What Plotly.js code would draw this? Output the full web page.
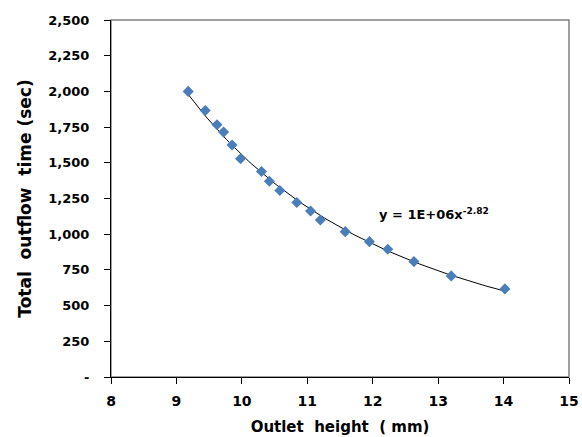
<!DOCTYPE html>
<html>
<head>
<meta charset="utf-8">
<script src="https://cdn.plot.ly/plotly-3.0.1.min.js"></script>
<style>
  html, body { margin: 0; padding: 0; background: #fff; }
  #chart { width: 582px; height: 437px; }
</style>
</head>
<body>
<div id="chart"></div>
<script>
// Outlet height (mm) and measured total outflow time (sec)
const outletHeight = [9.18, 9.44, 9.62, 9.72, 9.85, 9.98, 10.30, 10.42, 10.58, 10.84,
                      11.05, 11.20, 11.58, 11.95, 12.23, 12.63, 13.20, 14.02];
const outflowTime  = [2000, 1866, 1766, 1715, 1624, 1528, 1439, 1371, 1306, 1222,
                      1163, 1100, 1018, 948, 895, 808, 708, 617];

const yTickVals = [0, 250, 500, 750, 1000, 1250, 1500, 1750, 2000, 2250, 2500];
const yTickText = ['-', '250', '500', '750', '1,000', '1,250', '1,500', '1,750', '2,000', '2,250', '2,500'];
const xTickVals = [8, 9, 10, 11, 12, 13, 14, 15];

const equationText = 'y = 1E+06x<sup>-2.82</sup>';

// Power-law trendline y = a * x^b, fitted by least squares in log-log space
function powerFit(xs, ys) {
  const n = xs.length;
  let sx = 0, sy = 0, sxx = 0, sxy = 0;
  for (let i = 0; i < n; i++) {
    const lx = Math.log(xs[i]), ly = Math.log(ys[i]);
    sx += lx; sy += ly; sxx += lx * lx; sxy += lx * ly;
  }
  const b = (n * sxy - sx * sy) / (n * sxx - sx * sx);
  const a = Math.exp((sy - b * sx) / n);
  return { a, b };
}
const fit = powerFit(outletHeight, outflowTime);
const xMin = Math.min(...outletHeight), xMax = Math.max(...outletHeight);
const trendX = [], trendY = [];
for (let i = 0; i <= 100; i++) {
  const x = xMin + (xMax - xMin) * i / 100;
  trendX.push(x);
  trendY.push(fit.a * Math.pow(x, fit.b));
}

const FONT = 'DejaVu Sans, Verdana, sans-serif';

const traces = [
  {
    x: trendX, y: trendY, type: 'scatter', mode: 'lines',
    line: { color: '#000000', width: 1 },
    hoverinfo: 'skip', showlegend: false
  },
  {
    x: outletHeight, y: outflowTime, type: 'scatter', mode: 'markers',
    marker: { symbol: 'diamond', size: 8.5, color: '#4a7ebb' },
    showlegend: false
  }
];

const layout = {
  width: 582, height: 437,
  margin: { l: 111, r: 13, t: 20, b: 60 },
  paper_bgcolor: '#ffffff', plot_bgcolor: '#ffffff',
  font: { family: FONT, color: '#000000' },
  xaxis: {
    range: [8, 15], tickvals: xTickVals, ticktext: xTickVals.map(String),
    showgrid: false, zeroline: false,
    showline: true, linecolor: '#000000', linewidth: 1,
    ticks: 'outside', ticklen: 6, tickcolor: '#000000', tickwidth: 1,
    tickfont: { family: FONT, size: 14, color: '#000000', weight: 'bold' },
    ticklabelstandoff: 5,
    title: { text: 'Outlet\u00a0 height\u00a0 (\u00a0mm)', font: { family: FONT, size: 15, color: '#000000', weight: 'bold' }, standoff: 13 },
    automargin: false
  },
  yaxis: {
    range: [0, 2500], tickvals: yTickVals, ticktext: yTickText,
    showgrid: false, zeroline: false,
    showline: true, linecolor: '#000000', linewidth: 1,
    ticks: 'outside', ticklen: 6, tickcolor: '#000000', tickwidth: 1,
    tickfont: { family: FONT, size: 13, color: '#000000', weight: 'bold' },
    ticklabelstandoff: 12,
    title: { text: 'Total\u00a0 outflow\u00a0 time (sec)', font: { family: FONT, size: 17, color: '#000000', weight: 'bold' }, standoff: 12 },
    automargin: false
  },
  shapes: [
    {
      type: 'rect', xref: 'paper', yref: 'paper', x0: 0, x1: 1, y0: 0, y1: 1,
      line: { color: '#808080', width: 1.5 }, layer: 'below'
    }
  ],
  annotations: [
    {
      x: 12.94, y: 1140, xref: 'x', yref: 'y', text: equationText,
      showarrow: false, xanchor: 'center', yanchor: 'middle',
      font: { family: FONT, size: 13, color: '#000000', weight: 'bold' }
    }
  ]
};

Plotly.newPlot('chart', traces, layout, { displayModeBar: false, staticPlot: true });
</script>
</body>
</html>
